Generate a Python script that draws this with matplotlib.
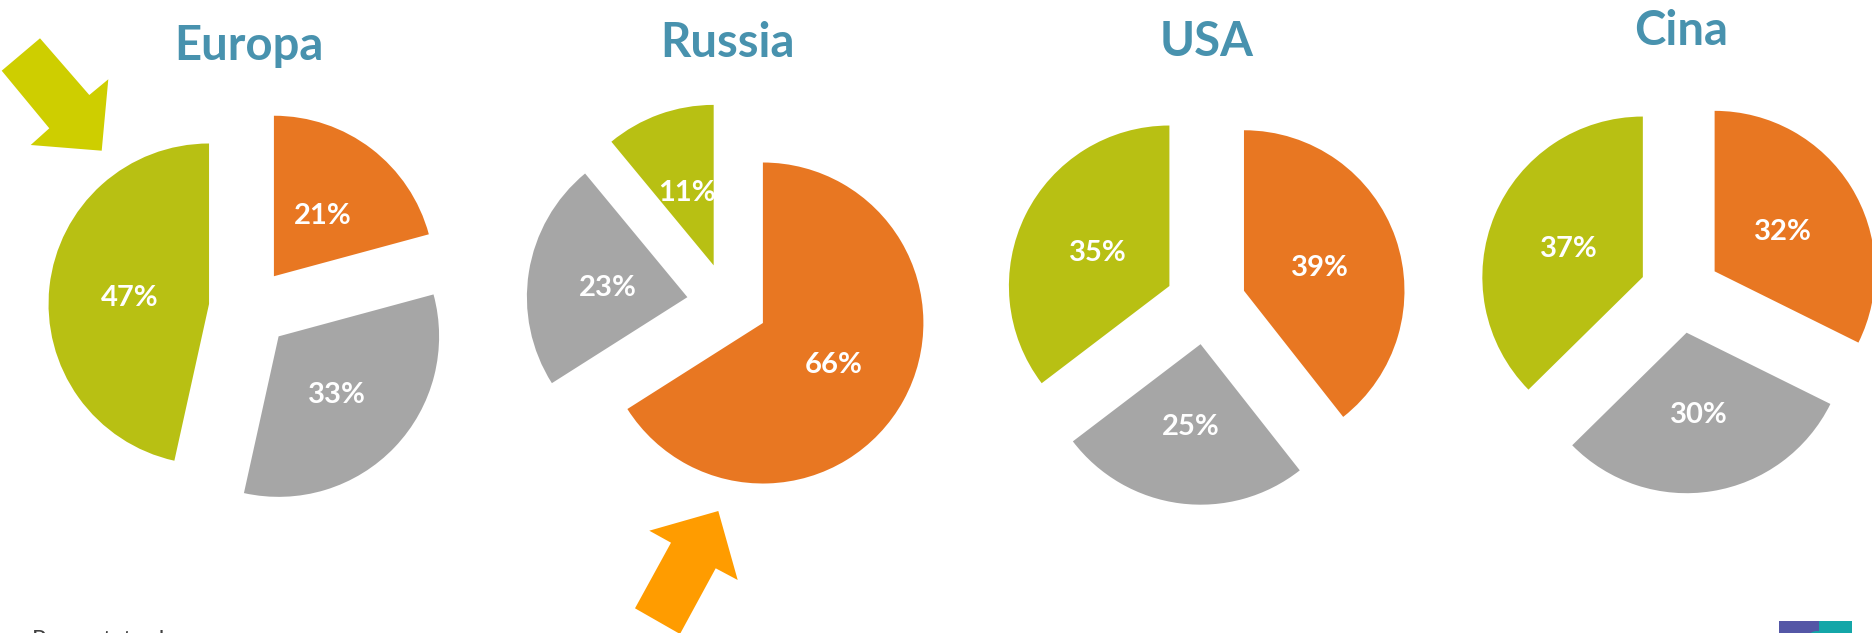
import matplotlib
matplotlib.use("Agg")
import matplotlib.pyplot as plt
from matplotlib.patches import Polygon, Rectangle, Circle

# ---- data ----
regions = ["Europa", "Russia", "USA", "Cina"]
categories = ["Arancio", "Grigio", "Verde"]
europa_vals = [21, 33, 47]
russia_vals = [66, 23, 11]
usa_vals = [39, 25, 35]
cina_vals = [32, 30, 37]
series = [europa_vals, russia_vals, usa_vals, cina_vals]
footer_text = "Presentato da"

# ---- style / layout ----
W, H = 1872, 633
colors = ["#E87722", "#A6A6A6", "#B8C013"]
title_color = "#4892AE"
centers = [(249.3, 308.4), (727.4, 303.5), (1205.7, 304.0), (1680.2, 292.7)]
title_pos = [(249, 60), (728, 57), (1207, 56), (1681, 45)]
radius = 160.5
explode_dist = 40.5  # matplotlib applies explode in data units

fig = plt.figure(figsize=(W / 100, H / 100), dpi=100)
ax = fig.add_axes([0, 0, 1, 1])

def Y(y):
    return H - y

for vals, (cx, cy), name, (tx, ty) in zip(series, centers, regions, title_pos):
    it = iter(vals)
    wedges, _, autotexts = ax.pie(
        vals, colors=colors, startangle=90, counterclock=False,
        explode=[explode_dist] * len(vals), radius=radius,
        center=(cx, Y(cy)), pctdistance=0.5,
        autopct=lambda p, it=it: f"{next(it)}%",
        wedgeprops=dict(linewidth=0),
        textprops=dict(color="white", fontsize=21,
                       fontweight="bold", family="Lato"))
    for t in autotexts:
        x0, y0 = t.get_position()
        t.set_position((x0, y0 - 3))
    ax.text(tx, Y(ty), name, ha="center", va="baseline", fontsize=34,
            fontweight="bold", family="Lato", color=title_color)

# decorative arrows
green_arrow = [(1.7, 70.7), (40, 38.3), (89.3, 95), (108.3, 79.3),
               (101.7, 150.7), (30.7, 145), (49.3, 128.3)]
ax.add_patch(Polygon([(x, Y(y)) for x, y in green_arrow], closed=True,
                     facecolor="#CECE00", edgecolor="none"))
orange_arrow = [(718.3, 511), (737.7, 580), (715.7, 568.3), (680, 634),
                (635, 608.3), (671, 542.7), (649.3, 530.7)]
ax.add_patch(Polygon([(x, Y(y)) for x, y in orange_arrow], closed=True,
                     facecolor="#FF9C00", edgecolor="none"))

# footer text (cut at bottom edge, as in the reference)
ax.text(32, Y(647), footer_text, ha="left", va="baseline", fontsize=17,
        family="Lato", color="#404040")

# logo fragment bottom-right
ax.add_patch(Rectangle((1779, Y(634)), 40, 13, facecolor="#5457A6",
                       edgecolor="none"))
ax.add_patch(Rectangle((1819, Y(634)), 33, 13, facecolor="#14A6A8",
                       edgecolor="none"))
ax.add_patch(Circle((1817, Y(642)), 11, facecolor="#14A6A8",
                    edgecolor="none"))
ax.add_patch(Circle((1824, Y(646)), 10, facecolor="#5457A6",
                    edgecolor="none"))
ax.add_patch(Rectangle((1852, Y(634)), 20, 13, facecolor="white",
                       edgecolor="none"))

ax.set_xlim(0, W)
ax.set_ylim(0, H)
ax.set_aspect("auto")
ax.axis("off")

fig.savefig("out.png", dpi=100, facecolor="white")
